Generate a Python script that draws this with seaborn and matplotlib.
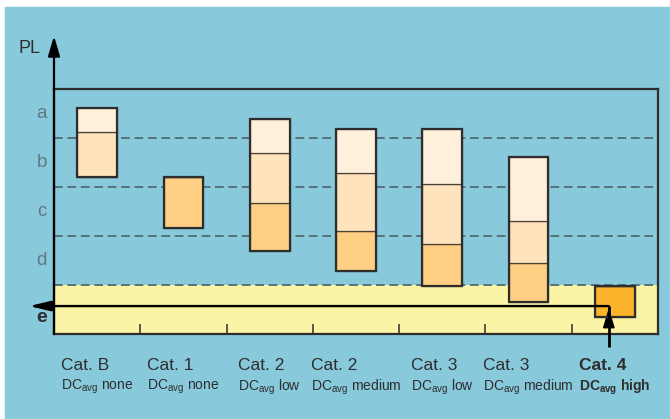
"""
PL chart: designated architecture categories vs. achievable performance
level a..e, with the Cat. 4 / DCavg high path highlighted.
"""

import numpy as np
import matplotlib
matplotlib.use("Agg")
import matplotlib.pyplot as plt
import seaborn as sns
from matplotlib.patches import Rectangle
from matplotlib.offsetbox import TextArea, VPacker, AnnotationBbox

# categories along the x axis
cat_ids = ["B", "1", "2L", "2M", "3L", "3M", "4"]
cat_names = ["Cat. B", "Cat. 1", "Cat. 2", "Cat. 2", "Cat. 3", "Cat. 3", "Cat. 4"]
dc_levels = ["none", "none", "low", "medium", "low", "medium", "high"]

# PL bands, top to bottom (a = 4..5 ... e = 0..1)
pl_levels = ["a", "b", "c", "d", "e"]

# bar segment boundaries in PL units (0 = bottom of e, 5 = top of a)
bar_bottom = [3.20, 2.16, 1.69, 1.29, 0.98, 0.65, 0.35]
dark_top = [3.20, 3.20, 2.67, 2.10, 1.84, 1.45, 0.98]
medium_top = [4.12, 3.20, 3.69, 3.29, 3.06, 2.31, 0.98]
light_top = [4.61, 3.20, 4.39, 4.18, 4.18, 3.61, 0.98]

highlight = "4"

BG = "#88C9DC"
YELLOW = "#FBF3A5"
LIGHT = "#FFF0DB"
MEDIUM = "#FFE3BC"
DARK = "#FFD083"
ORANGE = "#FDB22C"
INK = "#2E2E2E"
DASH = "#55727C"
GREY_TXT = "#62787F"
FONT = ["Liberation Sans", "DejaVu Sans"]

sns.set_theme(style="white")
plt.rcParams["font.family"] = FONT


def draw_layer(ax, lo, hi, **kws):
    lo = np.asarray(lo)
    hi = np.asarray(hi)
    sns.barplot(x=cat_ids, y=hi - lo, order=cat_ids, bottom=lo, width=0.46,
                errorbar=None, saturation=1, ax=ax, **kws)


fig = plt.figure(figsize=(6.7, 4.19), dpi=100, facecolor="white")
fig.patches.append(Rectangle((5 / 670, 0), 1, 412 / 419,
                             transform=fig.transFigure, color=BG, zorder=-1))
ax = fig.add_axes([54 / 670, 85 / 419, 604 / 670, 245 / 419])
ax.set_facecolor(BG)
n = len(cat_ids)

# PL e band and level separators
ax.axhspan(0, 1, color=YELLOW, lw=0, zorder=0.5)
for y in range(1, len(pl_levels)):
    ax.axhline(y, color=DASH, lw=1.4, dashes=(4.5, 2.4), zorder=1)

# stacked bar segments, then one outline per bar
dark_colors = [ORANGE if c == highlight else DARK for c in cat_ids]
seg_kws = dict(edgecolor="#4A4238", linewidth=0.9, zorder=3)
draw_layer(ax, bar_bottom, dark_top, color=DARK, facecolor=dark_colors,
           **seg_kws)
draw_layer(ax, dark_top, medium_top, color=MEDIUM, **seg_kws)
draw_layer(ax, medium_top, light_top, color=LIGHT, **seg_kws)
draw_layer(ax, bar_bottom, light_top, fill=False, color=INK, linewidth=1.6,
           zorder=4)

ax.set_xlim(-0.5, n - 0.5)
ax.set_ylim(0, len(pl_levels))
ax.set_xlabel("")
ax.set_ylabel("")
ax.set_xticks(np.arange(0.5, n - 1), labels=[""] * (n - 1))
ax.set_yticks([])
ax.tick_params(axis="x", direction="in", length=7, width=1.1, color=INK,
               bottom=True)
for s in ax.spines.values():
    s.set_color(INK)
    s.set_linewidth(1.6)

# PL axis arrow
head = "-|>,head_length=1.0,head_width=0.3"
ax.annotate("", xy=(0, 1.216), xycoords="axes fraction", xytext=(0, 0),
            textcoords="axes fraction", annotation_clip=False,
            arrowprops=dict(arrowstyle=head, mutation_scale=12, lw=1.6,
                            color="black", shrinkA=0, shrinkB=0))
ax.text(-0.041, 1.167, "PL", transform=ax.transAxes, ha="center",
        va="center", fontsize=13, color=INK)

# level letters
ytrans = ax.get_yaxis_transform()
for i, lvl in enumerate(pl_levels):
    yc = len(pl_levels) - 0.5 - i
    if lvl == "e":
        ax.text(-0.02, 0.33, lvl, transform=ytrans, ha="center", va="center",
                fontsize=14, fontweight="bold", color=INK)
    else:
        ax.text(-0.02, yc, lvl, transform=ytrans, ha="center", va="center",
                fontsize=13.5, color=GREY_TXT)

# Cat. 4 -> PL e path
x_path = 5.93
ax.plot([x_path, x_path], [-0.27, 0.57], color="black", lw=2.0,
        clip_on=False, zorder=5, solid_capstyle="butt")
ax.annotate("", xy=(x_path, 0.53), xytext=(x_path, 0.2),
            annotation_clip=False,
            arrowprops=dict(arrowstyle=head, mutation_scale=12, lw=1.2,
                            color="black", shrinkA=0, shrinkB=0))
ax.annotate("", xy=(-0.041, 0.57), xycoords=("axes fraction", "data"),
            xytext=(x_path, 0.57), textcoords="data", annotation_clip=False,
            arrowprops=dict(arrowstyle="-|>,head_length=1.05,head_width=0.25",
                            mutation_scale=12, lw=1.7, color="black",
                            shrinkA=0, shrinkB=0), zorder=5)

# category labels
for i, (name, dc) in enumerate(zip(cat_names, dc_levels)):
    weight = "bold" if cat_ids[i] == highlight else "normal"
    main = TextArea(name, textprops=dict(fontsize=12.5, color=INK,
                                         fontweight=weight, family=FONT))
    sub = TextArea(r"DC$_\mathregular{avg}$ " + dc,
                   textprops=dict(fontsize=10, color=INK, fontweight=weight,
                                  family=FONT))
    box = VPacker(children=[main, sub], align="left", pad=0, sep=3)
    ab = AnnotationBbox(box, (i, 0), xycoords=("data", "axes fraction"),
                        xybox=(0, -17.5), boxcoords="offset points",
                        box_alignment=(0.5, 1), frameon=False,
                        annotation_clip=False)
    ax.add_artist(ab)

fig.savefig("out.png", dpi=100)
